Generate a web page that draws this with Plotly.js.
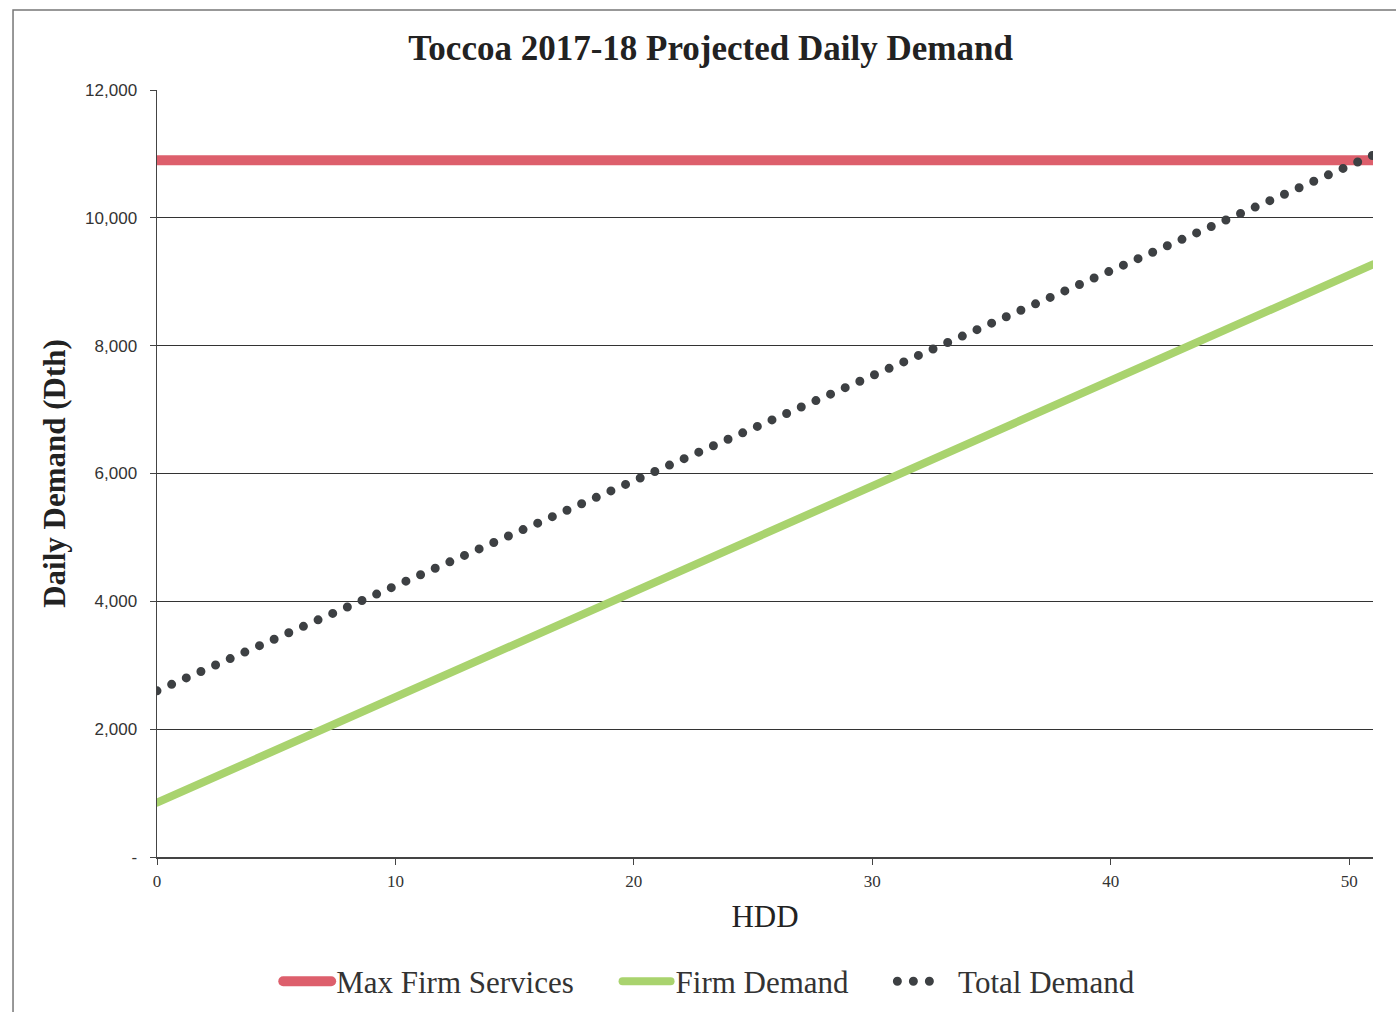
<!DOCTYPE html>
<html>
<head>
<meta charset="utf-8">
<script src="https://cdn.plot.ly/plotly-3.0.1.min.js"></script>
<style>
  html, body { margin: 0; padding: 0; background: #fff; }
  #chart { width: 1396px; height: 1012px; }
  path.js-line { stroke-linecap: round !important; }
</style>
</head>
<body>
<div id="chart"></div>
<script>
// HDD endpoints of the straight lines
const hdd = [0, 51];
const maxFirmServices = [10900, 10900];
const firmDemand = [850, 9270];
const totalDemand = [2600, 10980];

const seriesNames = ['Max Firm Services', 'Firm Demand', 'Total Demand'];
const yTickVals = [0, 2000, 4000, 6000, 8000, 10000, 12000];
const yTickText = ['-', '2,000', '4,000', '6,000', '8,000', '10,000', '12,000'];
const xTickVals = [0, 10, 20, 30, 40, 50];

const serif = 'Liberation Serif, Times New Roman, serif';
const sans = 'Liberation Sans, Arial, sans-serif';
const pad = '&nbsp;&nbsp;&nbsp;&nbsp;&nbsp;';

const traces = [
  { x: hdd, y: maxFirmServices, name: seriesNames[0] + pad, mode: 'lines',
    line: { color: '#dd5f6c', width: 10 } },
  { x: hdd, y: firmDemand, name: seriesNames[1] + pad, mode: 'lines',
    line: { color: '#a9d36e', width: 8 } },
  { x: hdd, y: totalDemand, name: '&nbsp;' + seriesNames[2], mode: 'lines',
    line: { color: '#3d4043', width: 9, dash: '0px,16px' } }
];

const layout = {
  width: 1396, height: 1012,
  paper_bgcolor: '#ffffff', plot_bgcolor: '#ffffff',
  margin: { l: 157, r: 23, t: 90, b: 155 },
  showlegend: true,
  title: { text: '<b>Toccoa 2017-18 Projected Daily Demand</b>',
    font: { family: serif, size: 35, color: '#222' },
    xref: 'container', x: 0.509, xanchor: 'center',
    yref: 'container', y: 0.953, yanchor: 'middle' },
  xaxis: {
    range: [0, 51], tickvals: xTickVals, ticks: 'outside', ticklen: 6,
    tickcolor: '#444', showgrid: false, zeroline: false,
    showline: true, linecolor: '#444', linewidth: 1.5,
    tickfont: { family: serif, size: 17, color: '#333' },
    ticklabelstandoff: 2,
    title: { text: 'HDD', font: { family: serif, size: 31, color: '#222' }, standoff: 15 }
  },
  yaxis: {
    range: [0, 12000], tickvals: yTickVals, ticktext: yTickText,
    ticks: 'outside', ticklen: 6, tickcolor: '#444',
    showgrid: true, gridcolor: '#333', gridwidth: 1.3, zeroline: false,
    showline: true, linecolor: '#444', linewidth: 1.5,
    tickfont: { family: sans, size: 17, color: '#333' },
    ticklabelstandoff: 9,
    title: { text: '<b>Daily Demand (Dth)</b>', font: { family: serif, size: 31, color: '#222' }, standoff: 10 }
  },
  legend: {
    orientation: 'h', xref: 'container', yref: 'container',
    x: 0.508, xanchor: 'center', y: 0.03, yanchor: 'middle',
    font: { family: serif, size: 31, color: '#333' },
    itemwidth: 48, tracegroupgap: 0
  },
  shapes: [
    { type: 'rect', xref: 'paper', yref: 'paper',
      x0: -0.1184, x1: 1.03, y0: -0.25, y1: 1.1043,
      line: { color: '#777', width: 1.5 }, fillcolor: 'rgba(0,0,0,0)', layer: 'below' }
  ]
};

Plotly.newPlot('chart', traces, layout, { staticPlot: true, displayModeBar: false });
</script>
</body>
</html>
